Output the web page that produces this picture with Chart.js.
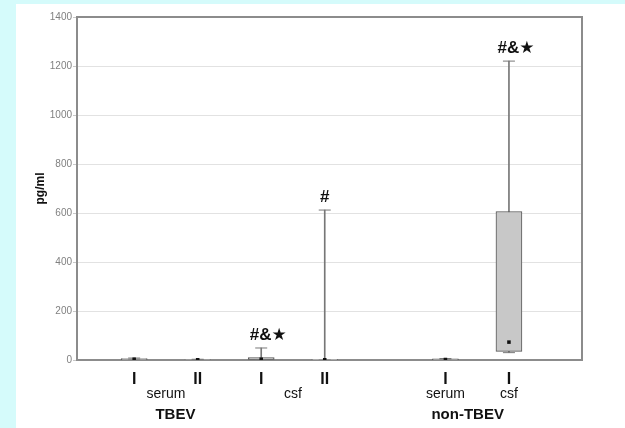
<!DOCTYPE html>
<html>
<head>
<meta charset="utf-8">
<script src="https://cdn.jsdelivr.net/npm/chart.js@4/dist/chart.umd.min.js"></script>
<style>
  html, body { margin: 0; padding: 0; background: #d5fbfb; }
  .panel { position: absolute; left: 16px; top: 4px; width: 609px; height: 424px; background: #fff; }
</style>
</head>
<body>
<div class="panel"><canvas id="chart" width="609" height="424"></canvas></div>
<script>

// Box plot data (pg/ml)

const categories = ["TBEV serum I", "TBEV serum II", "TBEV csf I", "TBEV csf II", "non-TBEV serum I", "non-TBEV csf I"];
const slots = [1, 2, 3, 4, 5.9, 6.9];
const whiskerMin = [0, 0, 0, 0, 0, 30];
const q1 = [1, 0, 0, 0, 1, 35];
const median = [3, 1, 3, 1, 2, 73];
const q3 = [6, 2, 10, 3, 5, 606];
const whiskerMax = [8, 3, 49, 612, 6, 1220];
const marks = ["", "", "#&★", "#", "", "#&★"];

const romanLabels = ["I", "II", "I", "II", "I", "I"];
const fluidLabels = ["serum", "csf", "serum", "csf"];
const fluidSlots = [1.5, 3.5, 5.9, 6.9];
const groupLabels = ["TBEV", "non-TBEV"];
const groupSlots = [1.65, 6.25];
const yTicks = [0, 200, 400, 600, 800, 1000, 1200, 1400];

const X_MIN = 0.1, X_MAX = 8.05;

// helpers

function fixedTicks(values) {
    return scale => { scale.ticks = values.map(v => ({ value: v })); };
}

const frame = {
    id: "frame",
    beforeDatasetsDraw(chart) {
        const { ctx, chartArea: a } = chart;
        ctx.save();
        ctx.strokeStyle = "#8c8c8c";
        ctx.lineWidth = 2;
        ctx.strokeRect(a.left, a.top, a.right - a.left, a.bottom - a.top);
        ctx.restore();
    }
};

const sigMarks = {
    id: "sigMarks",
    afterDatasetsDraw(chart) {
        const { ctx, scales } = chart;
        ctx.save();
        ctx.font = "bold 17px 'Liberation Sans', 'DejaVu Sans', sans-serif";
        ctx.fillStyle = "#111";
        ctx.textAlign = "center";
        ctx.textBaseline = "bottom";
        marks.forEach((m, i) => {
            if (!m) return;
            const x = scales.x.getPixelForValue(slots[i]) + (m.length > 1 ? 7 : 0);
            const y = scales.y.getPixelForValue(whiskerMax[i]) - 4;
            ctx.fillText(m, x, y);
        });
        ctx.restore();
    }
};

const xBase = { type: "linear", position: "bottom", min: X_MIN, max: X_MAX, offset: false,
                grid: { display: false, drawTicks: false, tickLength: 0 }, border: { display: false } };

new Chart(document.querySelector("#chart").getContext("2d"), {
    type: "bar",
    data: {
        labels: categories,
        datasets: [
            {
                label: "median",
                type: "scatter",
                data: slots.map((x, i) => ({ x: x, y: median[i] })),
                pointStyle: "rect",
                pointRadius: 2.5,
                backgroundColor: "#111",
                borderColor: "#111",
                borderWidth: 0,
                order: 0
            },
            {
                label: "caps",
                type: "scatter",
                data: slots.map((x, i) => ({ x: x, y: whiskerMax[i] }))
                    .concat(slots.map((x, i) => ({ x: x, y: whiskerMin[i] }))),
                pointStyle: "line",
                pointRadius: 6,
                borderColor: "#777",
                borderWidth: 1,
                order: 1
            },
            {
                label: "box",
                data: slots.map((x, i) => ({ x: x, y: [q1[i], q3[i]] })),
                backgroundColor: "#c8c8c8",
                borderColor: "#555",
                borderWidth: 1,
                borderSkipped: false,
                barThickness: 26,
                grouped: false,
                order: 2
            },
            {
                label: "whisker",
                data: slots.map((x, i) => ({ x: x, y: [whiskerMin[i], whiskerMax[i]] })),
                backgroundColor: "#777",
                barThickness: 1,
                grouped: false,
                order: 3
            }
        ]
    },
    options: {
        responsive: false,
        animation: false,
        layout: { padding: { top: 13, right: 43, left: 0, bottom: 0 } },
        plugins: { legend: { display: false }, tooltip: { enabled: false } },
        scales: {
            x: Object.assign({}, xBase, {
                weight: 0,
                afterBuildTicks: fixedTicks(slots),
                afterFit: s => { s.height = 26; },
                ticks: {
                    autoSkip: false, maxRotation: 0, padding: 10, color: "#111",
                    font: { family: "'Liberation Sans', sans-serif", size: 16, weight: "bold" },
                    callback: (v, i) => romanLabels[i]
                }
            }),
            x2: Object.assign({}, xBase, {
                weight: 1,
                afterBuildTicks: fixedTicks(fluidSlots),
                afterFit: s => { s.height = 14; },
                ticks: {
                    autoSkip: false, maxRotation: 0, padding: 0, color: "#111",
                    font: { family: "'Liberation Sans', sans-serif", size: 14 },
                    callback: (v, i) => fluidLabels[i]
                }
            }),
            x3: Object.assign({}, xBase, {
                weight: 2,
                afterBuildTicks: fixedTicks(groupSlots),
                afterFit: s => { s.height = 28; },
                ticks: {
                    autoSkip: false, maxRotation: 0, padding: 6, color: "#111",
                    font: { family: "'Liberation Sans', sans-serif", size: 15, weight: "bold" },
                    callback: (v, i) => groupLabels[i]
                }
            }),
            y: {
                min: 0,
                max: 1400,
                afterBuildTicks: fixedTicks(yTicks),
                afterFit: s => { s.width = 61; },
                border: { display: false },
                grid: { color: "#e2e2e2", tickLength: 4, tickColor: "#c8c8c8" },
                ticks: {
                    padding: 1, color: "#808080",
                    font: { family: "'Liberation Sans', sans-serif", size: 10 },
                    callback: v => String(v)
                },
                title: {
                    display: true, text: "pg/ml", color: "#111",
                    padding: { top: 17, bottom: 0 },
                    font: { family: "'Liberation Sans', sans-serif", size: 12, weight: "bold" }
                }
            }
        }
    },
    plugins: [frame, sigMarks]
});
</script>
</body>
</html>
